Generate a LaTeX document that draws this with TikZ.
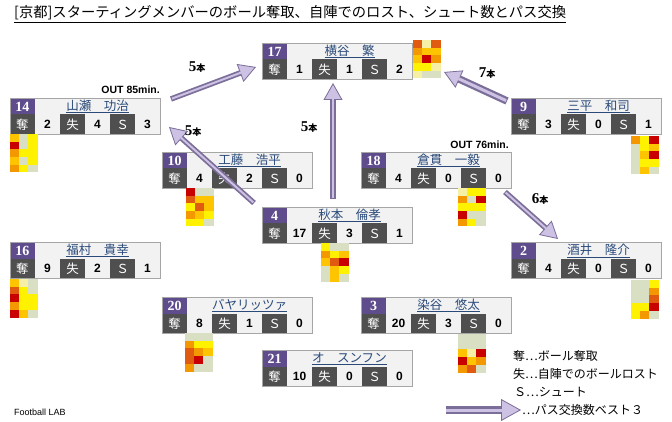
\documentclass[tikz,border=0pt]{standalone}
\usepackage{fontspec}
\setmainfont{Noto Sans CJK JP}
\newfontfamily\jp{Noto Sans CJK JP}
\newfontfamily\numsans{Liberation Sans}
\newfontfamily\numserif{Liberation Serif}
\usetikzlibrary{arrows.meta}
\definecolor{cardpurple}{HTML}{5E4C8C}
\definecolor{carddark}{HTML}{4F4F4F}
\definecolor{cardlight}{HTML}{F2F2F2}
\definecolor{cardborder}{HTML}{A6A6A6}
\definecolor{namecol}{HTML}{2A4A7A}
\definecolor{arrowdark}{HTML}{7B6E98}
\definecolor{arrowlight}{HTML}{CDC1E4}
\definecolor{hS}{HTML}{D8DFC2}
\definecolor{hL}{HTML}{F6F0A6}
\definecolor{hY}{HTML}{FFF200}
\definecolor{hG}{HTML}{FFC400}
\definecolor{hO}{HTML}{F39800}
\definecolor{hD}{HTML}{E05A10}
\definecolor{hR}{HTML}{C80000}
\tikzset{
  cardframe/.style={draw=cardborder,line width=0.6pt,minimum width=150pt,minimum height=36pt,inner sep=0pt},
  numtext/.style={text=white,font=\numserif\bfseries\fontsize{14}{14}\selectfont,inner sep=0pt},
  labtext/.style={text=white,font=\jp\fontsize{12.5}{12.5}\selectfont,inner sep=0pt},
  valtext/.style={text=black,font=\numsans\bfseries\fontsize{12}{12}\selectfont,inner sep=0pt},
  nametext/.style={text=namecol,font=\jp\fontsize{12.5}{12.5}\selectfont,inner sep=0pt},
  outtext/.style={font=\numsans\bfseries\fontsize{10.5}{10.5}\selectfont,inner sep=0pt},
  cntlabel/.style={inner sep=0pt},
  legtext/.style={font=\jp\fontsize{12}{12}\selectfont,inner sep=0pt,anchor=west},
  passarrow/.style={line width=#1,draw=arrowdark,-{Triangle[length=17pt,width=19pt,line width=0.8pt,fill=arrowlight]}},
  passarrow/.default=5.5pt,
  passlight/.style={line width=2pt,draw=arrowlight,shorten >=16pt,shorten <=1pt}
}
\newcommand\playercard[8]{%
  \fill[cardlight] (#2,#3) rectangle ++(150,36);
  \fill[cardpurple] (#2,#3) rectangle ++(25,16.5);
  \fill[carddark] (#2,#3+16.5) rectangle ++(25,19.5);
  \fill[carddark] (#2+50,#3+16.5) rectangle ++(25,19.5);
  \fill[carddark] (#2+100,#3+16.5) rectangle ++(25,19.5);
  \node[cardframe,anchor=north west] (#1) at (#2,#3) {};
  \node[numtext] (#1n) at (#2+12.5,#3+8.5) {#4};
  \node[nametext] (#1p) at (#2+87.5,#3+8.5) {\underline{#5}};
  \node[labtext] (#1k) at (#2+12.5,#3+26.5) {奪};
  \node[valtext] (#1a) at (#2+37.5,#3+26.5) {#6};
  \node[labtext] (#1l) at (#2+62.5,#3+26.5) {失};
  \node[valtext] (#1b) at (#2+87.5,#3+26.5) {#7};
  \node[labtext] (#1s) at (#2+112.5,#3+26.5) {Ｓ};
  \node[valtext] (#1c) at (#2+137.5,#3+26.5) {#8};
}
\newcommand\heatmap[3]{%
  \foreach \hcol [count=\i from 0] in {#3}{%
    \pgfmathtruncatemacro\hc{mod(\i,3)}%
    \pgfmathtruncatemacro\hr{\i/3}%
    \fill[\hcol] (#1+\hc*9.2,#2+\hr*7.7) rectangle ++(9.2,7.7);
  }%
}
\begin{document}
\begin{tikzpicture}[x=1pt,y=-1pt]
\fill[white] (0,0) rectangle (672,422);
\useasboundingbox (0,0) rectangle (672,422);

% title
\node[inner sep=0pt,anchor=west,font=\jp\fontsize{14.3}{14.3}\selectfont] (title) at (14,12.5) {[京都]スターティングメンバーのボール奪取、自陣でのロスト、シュート数とパス交換};
\draw[line width=0.7pt] ([yshift=-2pt]title.south west) -- ([yshift=-2pt]title.south east);

% cards
\playercard{p17}{262}{43}{17}{横谷　繁}{1}{1}{2}
\playercard{p14}{10}{98}{14}{山瀬　功治}{2}{4}{3}
\playercard{p9}{511}{98}{9}{三平　和司}{3}{0}{1}
\playercard{p10}{162}{152}{10}{工藤　浩平}{4}{2}{0}
\playercard{p18}{361}{152}{18}{倉貫　一毅}{4}{0}{0}
\playercard{p4}{262}{207}{4}{秋本　倫孝}{17}{3}{1}
\playercard{p16}{10}{242}{16}{福村　貴幸}{9}{2}{1}
\playercard{p2}{511}{242}{2}{酒井　隆介}{4}{0}{0}
\playercard{p20}{162}{297}{20}{バヤリッツァ}{8}{1}{0}
\playercard{p3}{361}{297}{3}{染谷　悠太}{20}{3}{0}
\playercard{p21}{262}{350}{21}{オ　スンフン}{10}{0}{0}

% heatmaps
\heatmap{413}{40}{hD,hL,hD, hO,hG,hG, hG,hR,hO, hY,hY,hL, hL,hS,hS}
\heatmap{10}{134}{hG,hS,hY, hR,hS,hY, hO,hY,hY, hG,hS,hY, hO,hY,hS}
\heatmap{631}{136}{hO,hY,hR, hS,hY,hG, hS,hG,hR, hS,hY,hY, hS,hG,hS}
\heatmap{186}{188}{hR,hS,hS, hD,hG,hG, hY,hD,hG, hO,hG,hY, hY,hY,hS}
\heatmap{458}{188}{hL,hY,hY, hO,hS,hR, hY,hY,hY, hR,hS,hS, hO,hY,hS}
\heatmap{321}{243}{hY,hS,hS, hO,hY,hG, hG,hD,hR, hS,hG,hY, hS,hG,hS}
\heatmap{10}{279}{hG,hL,hS, hD,hY,hS, hR,hY,hY, hO,hY,hY, hR,hG,hS}
\heatmap{631}{280}{hS,hS,hY, hS,hS,hO, hS,hS,hD, hY,hY,hR, hY,hO,hS}
\heatmap{185}{333}{hS,hS,hS, hO,hY,hY, hD,hO,hG, hD,hR,hS, hO,hS,hS}
\heatmap{458}{334}{hS,hS,hS, hS,hS,hS, hG,hL,hR, hR,hG,hO, hO,hD,hS}

% out labels
\node[outtext,anchor=east] (out14) at (160,90) {OUT 85min.};
\node[outtext,anchor=east] (out18) at (509,145) {OUT 76min.};

% arrow coordinates
\coordinate (a1) at (171,99);  \coordinate (a2) at (256,67);
\coordinate (b1) at (254,203); \coordinate (b2) at (169,127);
\coordinate (c1) at (333,199); \coordinate (c2) at (333,83);
\coordinate (d1) at (507,101); \coordinate (d2) at (444,72);
\coordinate (e1) at (505,192); \coordinate (e2) at (558,239);

\draw[passarrow] (a1) -- (a2);
\draw[passlight] (a1) -- (a2);
\draw[passarrow] (b1) -- (b2);
\draw[passlight] (b1) -- (b2);
\draw[passarrow] (c1) -- (c2);
\draw[passlight] (c1) -- (c2);
\draw[passarrow=7.5pt] (d1) -- (d2);
\draw[passlight,line width=3pt] (d1) -- (d2);
\draw[passarrow] (e1) -- (e2);
\draw[passlight] (e1) -- (e2);

% counts
\node[cntlabel] (la) at (197,67) {\numserif\bfseries\fontsize{15}{15}\selectfont 5\jp\bfseries\fontsize{9}{9}\selectfont 本};
\node[cntlabel] (lb) at (193,131) {\numserif\bfseries\fontsize{15}{15}\selectfont 5\jp\bfseries\fontsize{9}{9}\selectfont 本};
\node[cntlabel] (lc) at (309,127) {\numserif\bfseries\fontsize{15}{15}\selectfont 5\jp\bfseries\fontsize{9}{9}\selectfont 本};
\node[cntlabel] (ld) at (487,73) {\numserif\bfseries\fontsize{15}{15}\selectfont 7\jp\bfseries\fontsize{9}{9}\selectfont 本};
\node[cntlabel] (le) at (540,199) {\numserif\bfseries\fontsize{15}{15}\selectfont 6\jp\bfseries\fontsize{9}{9}\selectfont 本};

% legend
\node[legtext] (lg1) at (513,356) {奪…ボール奪取};
\node[legtext] (lg2) at (513,374) {失…自陣でのボールロスト};
\node[legtext] (lg3) at (514,392) {Ｓ…シュート};
\coordinate (lgA) at (446,410); \coordinate (lgB) at (521,410);
\draw[line width=8pt,draw=arrowdark,-{Triangle[length=20pt,width=22pt,line width=0.8pt,fill=arrowlight]}] (lgA) -- (lgB);
\draw[line width=3pt,draw=arrowlight,shorten >=19pt] (lgA) -- (lgB);
\node[legtext] (lg4) at (522,410) {…パス交換数ベスト３};

\node[inner sep=0pt,anchor=west,font=\numsans\fontsize{9}{9}\selectfont] (src) at (14,412) {Football LAB};
\end{tikzpicture}
\end{document}
